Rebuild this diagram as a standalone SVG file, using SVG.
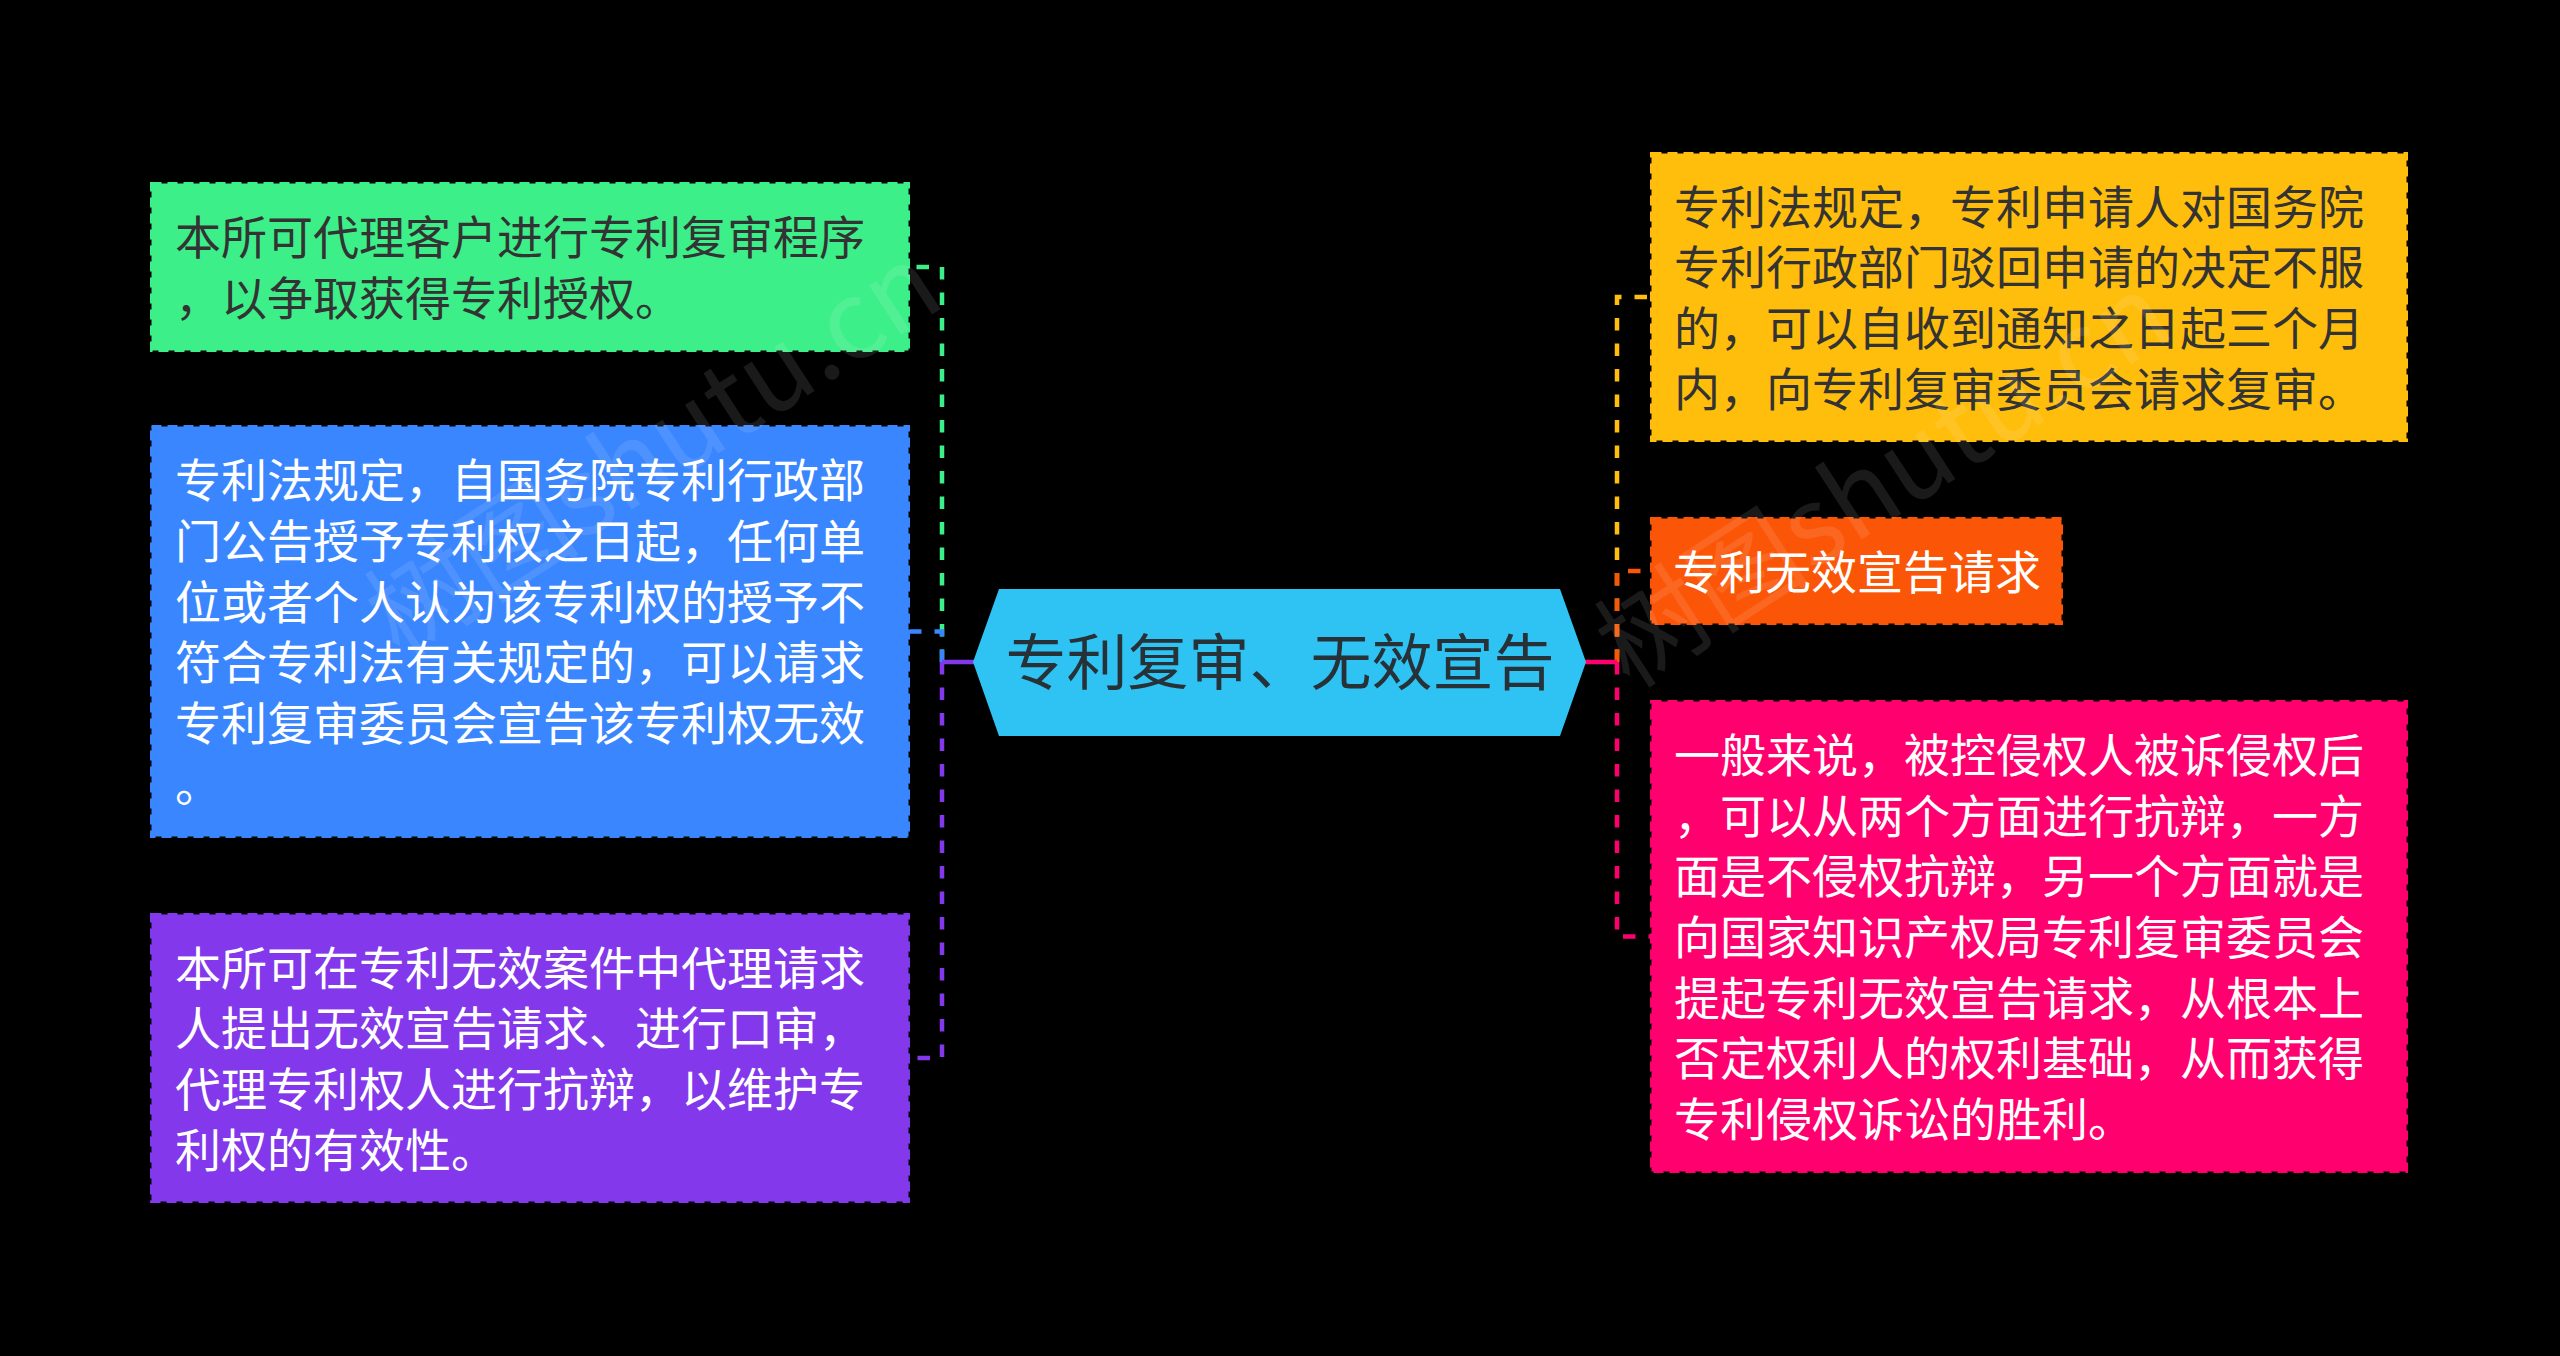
<svg xmlns="http://www.w3.org/2000/svg" width="2560" height="1356" viewBox="0 0 2560 1356">
<style>
.bg{fill:#000000}
.box{stroke-width:3;stroke-dasharray:10 6}
.t{font-family:"Noto Sans CJK SC","Noto Sans",sans-serif;font-size:46px}
.dk{fill:#333333}
.lt{fill:#ffffff}
.link{fill:none;stroke-width:4.5;stroke-dasharray:12.5 13}
.stub{fill:none;stroke-width:4.5}
.wm{font-family:"Noto Sans CJK SC","Liberation Serif",serif;font-size:108px;fill:#ffffff;opacity:0.1}
</style>
<rect class="bg" x="0" y="0" width="2560" height="1356"/>

<g id="connectors">
  <path class="link" stroke="#3DEF88" d="M942,662 V267 H910"/>
  <path class="link" stroke="#3A86FF" d="M942,662 V631.5 H910"/>
  <path class="link" stroke="#8338EC" d="M942,662 V1058 H910"/>
  <line class="stub" stroke="#8338EC" x1="975" y1="662" x2="942" y2="662"/>
  <path class="link" stroke="#FFBE0B" d="M1617,662 V297 H1650"/>
  <path class="link" stroke="#FB5607" d="M1617,662 V571 H1650"/>
  <path class="link" stroke="#FF006E" d="M1617,662 V936.5 H1650"/>
  <line class="stub" stroke="#FF006E" x1="1585" y1="662" x2="1617" y2="662"/>
</g>

<g id="root">
  <polygon points="973,662 999,589 1560,589 1586,662 1560,736 999,736" fill="#2FC3F3"/>
  <text x="1280" y="685" text-anchor="middle" font-family="Noto Sans CJK SC, Noto Sans, sans-serif" font-size="61" fill="#263238">专利复审、无效宣告</text>
</g>

<g id="n-green">
  <rect class="box" x="151.5" y="183.5" width="757" height="167" fill="#3DEF88" stroke="#3DEF88"/>
  <text class="t dk" x="175"><tspan x="175" y="254.2">本所可代理客户进行专利复审程序</tspan><tspan x="175" y="314.9">，以争取获得专利授权。</tspan></text>
</g>

<g id="n-blue">
  <rect class="box" x="151.5" y="426.5" width="757" height="410" fill="#3A86FF" stroke="#3A86FF"/>
  <text class="t lt"><tspan x="175" y="497.3">专利法规定，自国务院专利行政部</tspan><tspan x="175" y="558">门公告授予专利权之日起，任何单</tspan><tspan x="175" y="618.7">位或者个人认为该专利权的授予不</tspan><tspan x="175" y="679.4">符合专利法有关规定的，可以请求</tspan><tspan x="175" y="740.1">专利复审委员会宣告该专利权无效</tspan><tspan x="175" y="800.8">。</tspan></text>
</g>

<g id="n-purple">
  <rect class="box" x="151.5" y="914.5" width="757" height="287" fill="#8338EC" stroke="#8338EC"/>
  <text class="t lt"><tspan x="175" y="984.5">本所可在专利无效案件中代理请求</tspan><tspan x="175" y="1045.2">人提出无效宣告请求、进行口审，</tspan><tspan x="175" y="1105.9">代理专利权人进行抗辩，以维护专</tspan><tspan x="175" y="1166.6">利权的有效性。</tspan></text>
</g>

<g id="n-yellow">
  <rect class="box" x="1651.5" y="153.5" width="755" height="287" fill="#FFBE0B" stroke="#FFBE0B"/>
  <text class="t dk"><tspan x="1674" y="223.5">专利法规定，专利申请人对国务院</tspan><tspan x="1674" y="284.2">专利行政部门驳回申请的决定不服</tspan><tspan x="1674" y="344.9">的，可以自收到通知之日起三个月</tspan><tspan x="1674" y="405.6">内，向专利复审委员会请求复审。</tspan></text>
</g>

<g id="n-orange">
  <rect class="box" x="1651.5" y="518.5" width="410" height="105" fill="#FB5607" stroke="#FB5607"/>
  <text class="t lt" x="1673" y="588.5">专利无效宣告请求</text>
</g>

<g id="n-pink">
  <rect class="box" x="1651.5" y="701.5" width="755" height="470" fill="#FF006E" stroke="#FF006E"/>
  <text class="t lt"><tspan x="1674" y="771.9">一般来说，被控侵权人被诉侵权后</tspan><tspan x="1674" y="832.6">，可以从两个方面进行抗辩，一方</tspan><tspan x="1674" y="893.3">面是不侵权抗辩，另一个方面就是</tspan><tspan x="1674" y="954">向国家知识产权局专利复审委员会</tspan><tspan x="1674" y="1014.7">提起专利无效宣告请求，从根本上</tspan><tspan x="1674" y="1075.4">否定权利人的权利基础，从而获得</tspan><tspan x="1674" y="1136.1">专利侵权诉讼的胜利。</tspan></text>
</g>

<g id="watermark">
  <text class="wm" transform="translate(400,660) rotate(-33)">树图shutu.cn</text>
  <text class="wm" transform="translate(1630,690) rotate(-33)">树图shutu.cn</text>
</g>
</svg>
